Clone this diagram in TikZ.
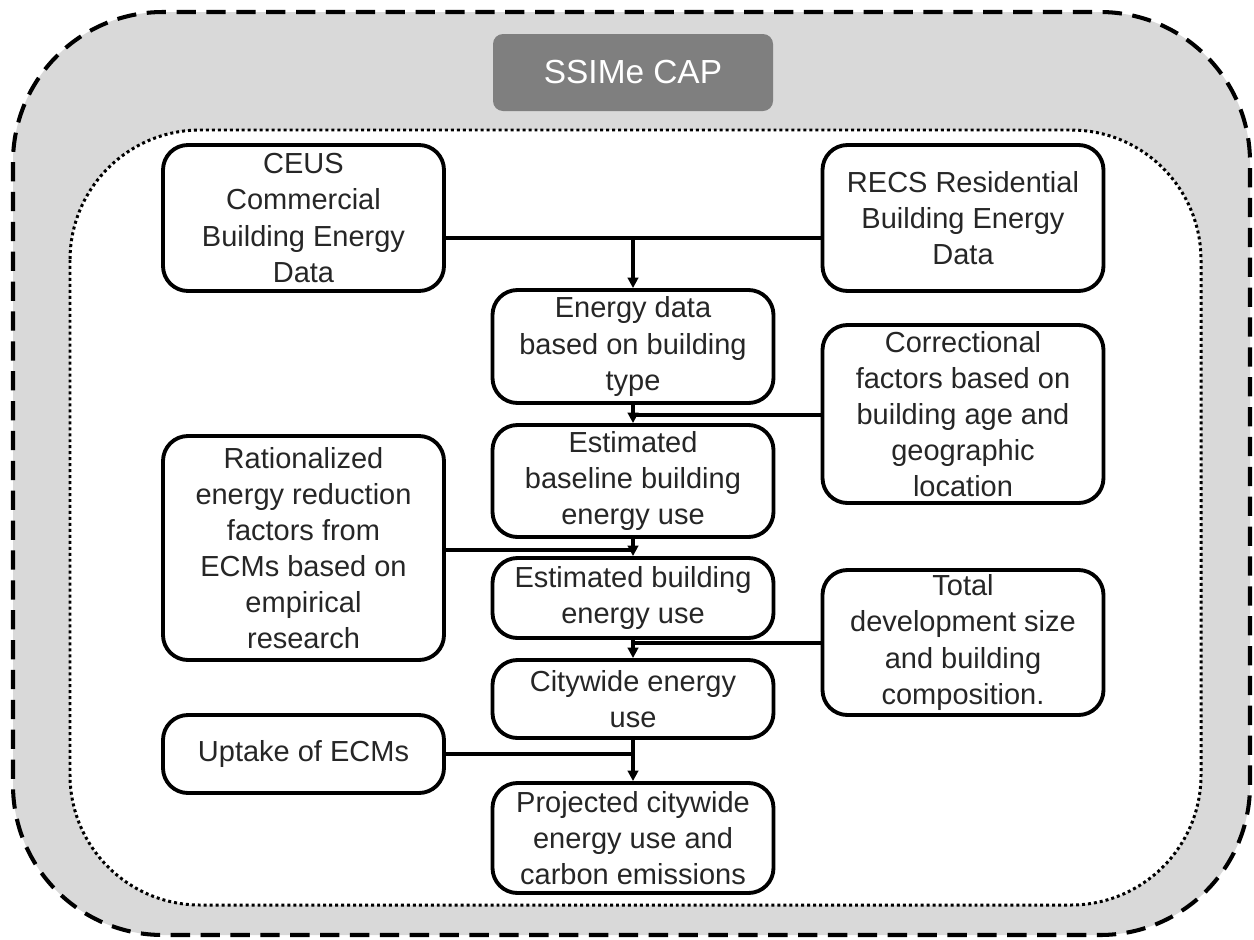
\documentclass[tikz,border=0pt]{standalone}
\usepackage{fontspec}
\setmainfont{Liberation Sans}
\setsansfont{Liberation Sans}
\usetikzlibrary{positioning,calc,arrows.meta}
\definecolor{capgray}{HTML}{7F7F7F}
\definecolor{bggray}{HTML}{D9D9D9}
\definecolor{txtgray}{HTML}{262626}

\begin{document}
\begin{tikzpicture}[x=0.2mm, y=-0.2mm,
  stepbox/.style={draw=black, line width=2.2pt, rounded corners=5mm, fill=white,
               minimum width=56.2mm, inner sep=0pt, align=center, text=txtgray,
               font=\sffamily\fontsize{16.5}{20.5}\selectfont},
  titlebox/.style={fill=capgray, rounded corners=2mm, minimum width=56mm,
               minimum height=15.4mm, text=white,
               font=\sffamily\fontsize{19}{22}\selectfont},
  feed/.style={line width=2pt},
  flow/.style={line width=2pt, -{Triangle[width=6pt,length=6pt]}},
]

\useasboundingbox (0,0) rectangle (1254,939);

% outer and inner frames
\draw[fill=bggray, line width=2.3pt, dash pattern=on 11pt off 6pt, rounded corners=30mm]
  (13,12) rectangle (1250,935);
\draw[fill=white, line width=1.7pt, dash pattern=on 1.7pt off 1.7pt, rounded corners=26mm]
  (70,130) rectangle (1201,905);

\node[titlebox] (cap) at (633,72.5) {SSIMe CAP};

\node[stepbox, minimum height=29.2mm] (ceus) at (303.5,218)
  {CEUS\\Commercial\\Building Energy\\Data};
\node[stepbox, minimum height=29.2mm] (recs) at (963,218)
  {RECS Residential\\Building Energy\\Data};

\node[stepbox, minimum height=22.6mm] (edata) at (633,346.5)
  {Energy data\\based on building\\type};
\node[stepbox, minimum height=35.6mm] (corr) at (963,414)
  {Correctional\\factors based on\\building age and\\geographic\\location};
\node[stepbox, minimum height=22.4mm] (base) at (633,481)
  {Estimated\\baseline building\\energy use};
\node[stepbox, minimum height=44.8mm] (ration) at (303.5,548)
  {Rationalized\\energy reduction\\factors from\\ECMs based on\\empirical\\research};
\node[stepbox, minimum height=16mm] (ebldg) at (633,598)
  {Estimated building\\energy use};
\node[stepbox, minimum height=29mm] (total) at (963,642.5)
  {Total\\development size\\and building\\composition.};
\node[stepbox, minimum height=15.6mm] (city) at (633,699)
  {Citywide energy\\use};
\node[stepbox, minimum height=15.6mm] (uptake) at (303.5,754)
  {Uptake of ECMs};
\node[stepbox, minimum height=22mm] (proj) at (633,838)
  {Projected citywide\\energy use and\\carbon emissions};

% merge points on the main column
\coordinate (mrg0) at (633,238);
\coordinate (mrg1) at (633,415);
\coordinate (mrg2) at (633,550);
\coordinate (mrg3) at (633,643);
\coordinate (mrg4) at (633,754);

\draw[feed] (ceus.east |- mrg0) -- (recs.west |- mrg0);
\draw[flow] (mrg0) -- (edata.north);

\draw[feed] (corr.west |- mrg1) -- (mrg1);
\draw[flow] (edata.south) -- (base.north);

\draw[feed] (ration.east |- mrg2) -- (mrg2);
\draw[flow] (base.south) -- (ebldg.north);

\draw[feed] (total.west |- mrg3) -- (mrg3);
\draw[flow] (ebldg.south) -- (city.north);

\draw[feed] (uptake.east |- mrg4) -- (mrg4);
\draw[flow] (city.south) -- (proj.north);

\end{tikzpicture}
\end{document}
